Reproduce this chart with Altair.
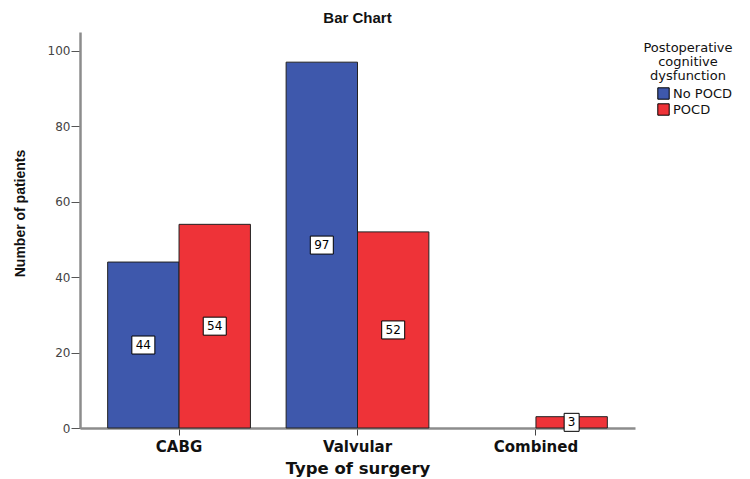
import altair as alt
import pandas as pd

categories = ["CABG", "Valvular", "Combined"]
groups = ["No POCD", "POCD"]
no_pocd = [44, 97, 0]
pocd = [54, 52, 3]
y_ticks = [0, 20, 40, 60, 80, 100]

rows = []
for i, c in enumerate(categories):
    rows.append({"surgery": c, "group": groups[0], "count": no_pocd[i]})
    rows.append({"surgery": c, "group": groups[1], "count": pocd[i]})
df = pd.DataFrame(rows)
df["half"] = df["count"] / 2
df["label"] = df["count"].astype(str)
df["digits"] = df["label"].str.len()

BLUE = "#3e58ac"
RED = "#ee3338"

x = alt.X(
    "surgery:N",
    sort=categories,
    scale=alt.Scale(paddingInner=0.2, paddingOuter=0.155),
    axis=alt.Axis(
        title="Type of surgery",
        labelAngle=0,
        labelFont="DejaVu Sans",
        labelFontWeight="bold",
        labelFontSize=15,
        labelColor="#111",
        labelPadding=4,
        titleFont="DejaVu Sans",
        titleFontWeight="bold",
        titleFontSize=16.5,
        titleColor="#111",
        titlePadding=6,
        tickColor="#444",
        tickSize=7,
        domainColor="#8c8c8c",
        domainWidth=2.5,
        grid=False,
    ),
)
xo = alt.XOffset("group:N", sort=groups, scale=alt.Scale(paddingInner=0, paddingOuter=0))
y_bar = alt.Y(
    "count:Q",
    scale=alt.Scale(domain=[0, 105], nice=False),
    axis=alt.Axis(
        values=y_ticks,
        title="Number of patients",
        titleFont="Liberation Sans",
        titleFontWeight="bold",
        titleFontSize=14,
        titleColor="#111",
        titlePadding=20,
        titleY=181,
        labelFont="DejaVu Sans",
        labelFontSize=12,
        labelColor="#444",
        labelPadding=1,
        tickColor="#555",
        tickSize=9,
        domainColor="#8c8c8c",
        domainWidth=2.5,
        grid=False,
    ),
)
color = alt.Color(
    "group:N",
    sort=groups,
    scale=alt.Scale(domain=groups, range=[BLUE, RED]),
    legend=alt.Legend(
        title=["Postoperative", "cognitive", "dysfunction"],
        orient="none",
        legendX=563,
        legendY=10,
        padding=0,
        titleFont="DejaVu Sans",
        titleFontSize=13,
        titleFontWeight="normal",
        titleColor="#111",
        titleAlign="center",
        titleAnchor="middle",
        titleLineHeight=14,
        titlePadding=4,
        labelFont="DejaVu Sans",
        labelFontSize=13,
        labelColor="#111",
        labelOffset=3,
        symbolType="square",
        symbolSize=130,
        symbolStrokeColor="#000",
        symbolStrokeWidth=1,
        symbolOffset=13,
        rowPadding=-1,
    ),
)

base = alt.Chart(df)

bars = (
    base.transform_filter("datum.count > 0")
    .mark_bar(stroke="#222", strokeWidth=1)
    .encode(x=x, xOffset=xo, y=y_bar, color=color)
)

box2 = (
    base.transform_filter("datum.count > 0 && datum.digits == 2")
    .mark_rect(width=23, height=18, fill="white", stroke="#000", strokeWidth=1)
    .encode(x=x, xOffset=xo, y=alt.Y("half:Q"))
)
box1 = (
    base.transform_filter("datum.count > 0 && datum.digits == 1")
    .mark_rect(width=15, height=18, fill="white", stroke="#000", strokeWidth=1)
    .encode(x=x, xOffset=xo, y=alt.Y("half:Q"))
)
texts = (
    base.transform_filter("datum.count > 0")
    .mark_text(font="DejaVu Sans", fontSize=12, color="#000", baseline="middle", align="center")
    .encode(x=x, xOffset=xo, y=alt.Y("half:Q"), text="label:N")
)

chart = (
    alt.layer(bars, box2, box1, texts)
    .properties(
        width=555,
        height=396,
        background="white",
        padding={"left": 80, "top": 32, "right": 115, "bottom": 51},
        autosize=alt.AutoSizeParams(type="none"),
        title=alt.Title(
            "Bar Chart",
            font="Liberation Sans",
            fontSize=15,
            fontWeight="bold",
            color="#111",
            anchor="middle",
            offset=6,
        ),
    )
    .configure_view(strokeWidth=0, stroke="transparent")
)

chart.save("out.html", embed_options={"renderer": "svg", "actions": False})
